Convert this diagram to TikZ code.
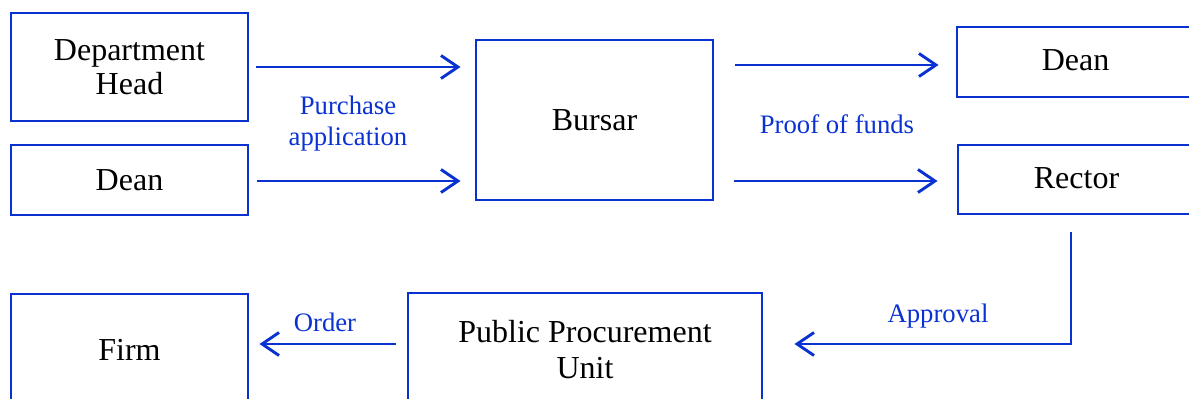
\documentclass[tikz,border=0pt]{standalone}
\usepackage{fontspec}
\setmainfont{Liberation Serif}
\usetikzlibrary{arrows.meta}
\definecolor{myblue}{RGB}{10,50,210}
\begin{document}
\begin{tikzpicture}[x=1pt,y=-1pt,
  box/.style={draw=myblue,line width=2.9pt,minimum width=237pt,inner sep=0pt,align=center,
    font=\fontsize{32}{36}\selectfont},
  lbl/.style={text=myblue,align=center,inner sep=0pt,font=\fontsize{26.7}{31}\selectfont},
  arr/.style={draw=myblue,line width=2.9pt,-{Straight Barb[length=17pt,width=23pt,line width=2.9pt]}}]
\useasboundingbox (0,0) rectangle (1189,399);
\clip (0,0) rectangle (1189,399);
\node[box,minimum height=108pt] (dh) at (129.5,67) {\raisebox{-3pt}{\shortstack{Department\\[2pt]Head}}};
\node[box,minimum height=70pt] (deanL) at (129.5,180) {Dean};
\node[box,minimum height=160pt] (bursar) at (594.5,120) {Bursar};
\node[box,minimum height=70pt] (deanR) at (1075.5,62) {\raisebox{3pt}{Dean}};
\node[box,minimum height=69pt] (rector) at (1076.5,179.5) {\raisebox{2pt}{Rector}};
\node[box,minimum height=111pt] (firm) at (129.5,349.5) {Firm};
\node[box,minimum width=354pt,minimum height=113pt] (ppu) at (585,349.5) {Public Procurement\\Unit};
\coordinate (a1s) at ([xshift=7pt]dh.east);
\coordinate (a1e) at ([xshift=-14pt]bursar.west |- a1s);
\coordinate (a2s) at ([xshift=8pt,yshift=-1pt]deanL.east);
\coordinate (a2e) at ([xshift=-14pt]bursar.west |- a2s);
\coordinate (a3e) at ([xshift=-17pt,yshift=-3pt]deanR.west);
\coordinate (a3s) at ([xshift=21pt]bursar.east |- a3e);
\coordinate (a4e) at ([xshift=-19pt,yshift=-1.5pt]rector.west);
\coordinate (a4s) at ([xshift=20pt]bursar.east |- a4e);
\draw[arr] (a1s) -- (a1e);
\draw[arr] (a2s) -- (a2e);
\draw[arr] (a3s) -- (a3e);
\draw[arr] (a4s) -- (a4e);
\coordinate (rdown) at (1071,232);
\draw[arr] (rdown) |- ([xshift=31pt,yshift=5.5pt]ppu.east);
\draw[arr] ([xshift=-11pt,yshift=5.5pt]ppu.west) -- ([xshift=10pt,yshift=5.5pt]firm.east);
\node[lbl] (l1) at (348,124) {Purchase\\application};
\node[lbl] (l2) at (837,124) {Proof of funds};
\node[lbl] (l3) at (938,316) {Approval};
\node[lbl] (l4) at (325,322) {Order};
\end{tikzpicture}
\end{document}
